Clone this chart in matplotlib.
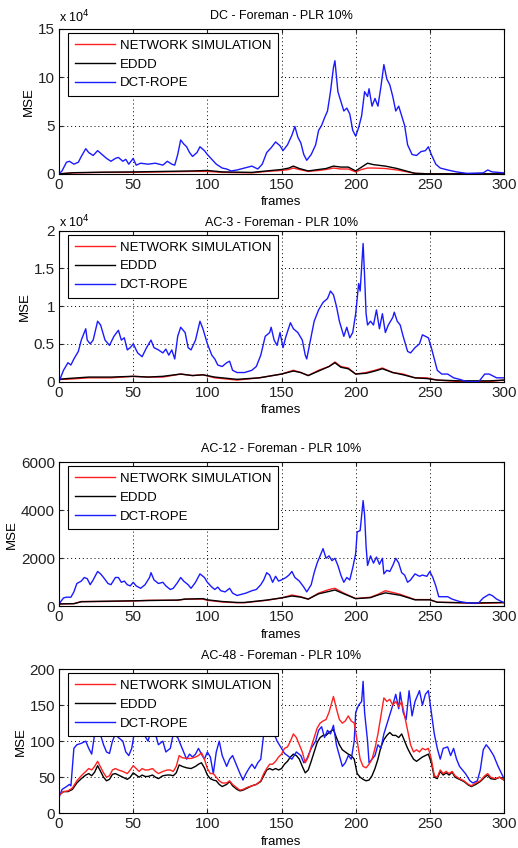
import matplotlib
matplotlib.use('Agg')
import matplotlib.pyplot as plt
import numpy as np

plt.rcParams['font.family'] = ['Liberation Sans', 'DejaVu Sans']
plt.rcParams['font.size'] = 9.5

labels = ['NETWORK SIMULATION', 'EDDD', 'DCT-ROPE']
titles = ['DC - Foreman - PLR 10%', 'AC-3 - Foreman - PLR 10%',
          'AC-12 - Foreman - PLR 10%', 'AC-48 - Foreman - PLR 10%']

# ---- DC (values in units of 1e4) ----
dc_blue_x = [0, 2, 5, 7, 10, 13, 15, 18, 20, 23, 26, 29, 32, 35, 38, 40, 43, 45, 47, 50,
             52, 55, 60, 65, 70, 73, 76, 78, 80, 82, 84, 86, 88, 90, 93, 95, 98, 100, 103, 106,
             110, 113, 116, 120, 125, 130, 134, 137, 140, 143, 146, 149, 151, 154, 157, 159, 161, 163, 165, 167,
             170, 173, 175, 177, 179, 181, 183, 185, 186, 188, 190, 192, 194, 196, 198, 200, 202, 204, 206, 208,
             209, 211, 213, 215, 217, 219, 221, 223, 225, 227, 229, 231, 233, 235, 238, 241, 244, 247, 249, 251,
             254, 257, 262, 268, 275, 286, 289, 292, 300]
dc_blue = [0, 0.3, 1.2, 1.3, 1.0, 1.2, 1.8, 2.6, 2.2, 1.9, 2.4, 2.0, 1.6, 1.3, 1.6, 1.7, 1.3, 1.5, 1.0, 1.6,
           0.9, 1.1, 1.0, 1.1, 0.9, 1.3, 1.0, 0.9, 2.0, 3.5, 3.1, 2.8, 2.2, 1.8, 2.2, 2.8, 2.4, 2.0, 1.5, 1.0,
           0.6, 0.5, 0.3, 0.4, 0.6, 0.8, 0.5, 1.0, 2.2, 2.7, 3.3, 2.9, 2.4, 3.0, 4.0, 4.9, 3.8, 3.2, 2.0, 1.4,
           2.0, 3.0, 4.5, 5.0, 5.8, 6.5, 8.5, 11.0, 11.7, 8.5, 7.5, 6.5, 6.8, 6.2, 4.5, 3.9, 4.8, 6.0, 8.5, 8.0,
           8.8, 7.0, 7.8, 7.0, 9.0, 11.3, 9.8, 9.2, 8.0, 6.5, 7.0, 6.0, 5.0, 3.0, 2.0, 1.9, 2.3, 2.4, 2.8, 2.0,
           1.0, 0.6, 0.4, 0.2, 0.05, 0.1, 0.4, 0.2, 0.1]
dc_low_x = [0, 10, 30, 50, 70, 90, 100, 110, 130, 140, 150, 155, 158, 162, 168, 175, 180, 185, 190, 195,
            200, 204, 208, 212, 220, 228, 235, 240, 250, 300]
dc_red = [0, 0.1, 0.15, 0.15, 0.2, 0.25, 0.25, 0.15, 0.1, 0.25, 0.35, 0.45, 0.6, 0.45, 0.25, 0.35, 0.45, 0.6, 0.5, 0.5,
          0.2, 0.45, 0.6, 0.6, 0.55, 0.4, 0.2, 0.05, 0, 0]
dc_black = [0, 0.12, 0.17, 0.2, 0.25, 0.3, 0.35, 0.2, 0.15, 0.3, 0.45, 0.6, 0.8, 0.55, 0.3, 0.45, 0.55, 0.8, 0.7, 0.7,
            0.3, 0.7, 1.1, 0.95, 0.8, 0.55, 0.25, 0.05, 0, 0]

# ---- AC-3 (values in units of 1e4) ----
ac3_blue_x = [0, 3, 6, 8, 10, 13, 15, 18, 19, 21, 23, 26, 28, 31, 34, 37, 40, 42, 44, 46,
              48, 50, 53, 56, 59, 62, 64, 67, 70, 72, 74, 76, 78, 80, 82, 85, 87, 89, 92, 95,
              97, 100, 103, 105, 107, 110, 113, 115, 117, 120, 125, 130, 133, 136, 139, 142, 143, 145, 147, 149,
              151, 153, 156, 158, 161, 164, 166, 167, 169, 172, 175, 178, 181, 183, 185, 187, 189, 192, 194, 196,
              198, 200, 202, 203, 205, 206, 207, 208, 210, 212, 214, 216, 218, 220, 222, 225, 226, 228, 230, 232,
              235, 237, 240, 243, 245, 247, 249, 251, 253, 255, 258, 262, 266, 270, 275, 283, 287, 290, 295, 300]
ac3_blue = [0, 0.15, 0.25, 0.22, 0.3, 0.4, 0.55, 0.7, 0.55, 0.5, 0.55, 0.8, 0.75, 0.55, 0.48, 0.6, 0.68, 0.55, 0.58, 0.42,
            0.45, 0.5, 0.38, 0.33, 0.45, 0.55, 0.45, 0.42, 0.38, 0.43, 0.35, 0.42, 0.3, 0.6, 0.72, 0.65, 0.45, 0.42, 0.55, 0.8,
            0.7, 0.5, 0.35, 0.3, 0.22, 0.2, 0.25, 0.27, 0.15, 0.12, 0.12, 0.15, 0.2, 0.35, 0.6, 0.65, 0.72, 0.55, 0.48, 0.65,
            0.45, 0.6, 0.78, 0.7, 0.65, 0.55, 0.35, 0.3, 0.5, 0.8, 0.95, 1.05, 1.1, 1.2, 1.15, 1.0, 0.8, 0.6, 0.72, 0.58,
            0.65, 0.9, 1.3, 1.2, 1.83, 1.4, 0.9, 0.75, 0.8, 0.75, 0.95, 0.7, 0.9, 0.65, 0.75, 0.85, 0.92, 0.8, 0.75, 0.6,
            0.4, 0.38, 0.45, 0.5, 0.62, 0.6, 0.58, 0.45, 0.3, 0.15, 0.1, 0.1, 0.05, 0.03, 0.0, 0.0, 0.1, 0.1, 0.05, 0.05]
ac3_low_x = [0, 5, 20, 35, 50, 60, 70, 82, 90, 97, 105, 120, 135, 150, 158, 163, 168, 175, 182, 186,
             190, 195, 200, 207, 213, 218, 225, 232, 240, 248, 255, 270, 290, 300]
ac3_red = [0.03, 0.03, 0.05, 0.05, 0.07, 0.06, 0.06, 0.1, 0.08, 0.09, 0.05, 0.02, 0.05, 0.1, 0.15, 0.12, 0.08, 0.15, 0.2, 0.26,
           0.2, 0.18, 0.1, 0.12, 0.15, 0.18, 0.12, 0.1, 0.05, 0.05, 0.02, 0.0, 0.0, 0.02]
ac3_black = [0.03, 0.04, 0.06, 0.06, 0.07, 0.06, 0.07, 0.1, 0.08, 0.09, 0.06, 0.03, 0.05, 0.1, 0.14, 0.12, 0.08, 0.14, 0.2, 0.25,
             0.19, 0.17, 0.1, 0.11, 0.14, 0.17, 0.12, 0.09, 0.05, 0.04, 0.02, 0.01, 0.01, 0.02]

# ---- AC-12 ----
ac12_blue_x = [0, 3, 5, 8, 10, 12, 15, 17, 19, 21, 23, 26, 28, 30, 33, 35, 38, 40, 42, 44,
               46, 48, 50, 52, 55, 58, 61, 62, 64, 67, 70, 72, 75, 77, 80, 82, 84, 87, 89, 92,
               95, 98, 100, 103, 105, 107, 109, 112, 115, 117, 120, 123, 126, 130, 133, 136, 138, 140, 142, 144,
               146, 148, 150, 153, 155, 157, 159, 162, 165, 167, 170, 172, 174, 176, 178, 180, 182, 184, 186, 188,
               190, 192, 194, 196, 198, 200, 201, 203, 205, 206, 207, 208, 210, 212, 214, 216, 218, 219, 221, 223,
               225, 227, 229, 231, 233, 235, 237, 240, 243, 245, 248, 250, 252, 254, 256, 258, 262, 265, 270, 275,
               280, 283, 286, 290, 292, 295, 300]
ac12_blue = [100, 350, 380, 380, 600, 950, 1050, 1200, 1150, 900, 1100, 1450, 1350, 1200, 950, 900, 1200, 1200, 1000, 1050,
             900, 850, 1000, 850, 750, 900, 1200, 1400, 1100, 950, 1000, 850, 700, 750, 1000, 1200, 1050, 900, 750, 1000,
             1350, 1200, 1000, 800, 700, 800, 650, 600, 750, 550, 450, 500, 550, 650, 700, 900, 1100, 1400, 1300, 1000,
             1250, 1050, 1100, 1200, 1300, 1450, 1200, 1050, 800, 600, 900, 1400, 1800, 2100, 2400, 2000, 2100, 1900, 2000, 1700,
             1300, 1000, 1200, 1100, 1600, 2200, 3100, 3150, 4400, 3800, 2500, 1700, 2100, 1800, 2050, 1750, 2000, 1350, 1500, 1450,
             1700, 2000, 1800, 1400, 1300, 1000, 1100, 1350, 1250, 1300, 1250, 1450, 1200, 850, 400, 400, 400, 300, 200, 150,
             130, 150, 350, 500, 450, 300, 150]
ac12_low_x = [0, 10, 15, 30, 50, 60, 80, 85, 97, 100, 110, 120, 125, 140, 150, 157, 163, 168, 175, 182,
              186, 192, 200, 210, 215, 220, 230, 240, 250, 255, 270, 280, 300]
ac12_red = [100, 110, 200, 200, 220, 250, 250, 300, 300, 250, 180, 150, 150, 250, 350, 470, 400, 300, 550, 700,
            750, 550, 320, 380, 500, 650, 500, 280, 280, 170, 150, 120, 150]
ac12_black = [100, 110, 190, 210, 230, 240, 260, 300, 320, 270, 200, 160, 160, 260, 350, 430, 380, 300, 520, 620,
              680, 520, 320, 360, 470, 560, 460, 270, 270, 170, 150, 140, 160]

# ---- AC-48 ----
ac48_blue_x = [0, 2, 5, 7, 8, 10, 12, 15, 18, 20, 22, 24, 27, 30, 32, 34, 36, 38, 40, 43,
               45, 47, 49, 51, 54, 57, 60, 62, 65, 67, 70, 72, 75, 77, 80, 82, 84, 86, 88, 90,
               92, 94, 96, 98, 100, 102, 104, 106, 108, 110, 113, 115, 117, 119, 122, 124, 126, 128, 130, 132,
               134, 136, 138, 140, 143, 145, 147, 150, 152, 154, 157, 160, 163, 165, 167, 170, 173, 175, 177, 179,
               181, 183, 185, 187, 189, 191, 193, 195, 197, 199, 200, 202, 204, 205, 206, 208, 209, 211, 213, 215,
               217, 219, 222, 225, 227, 229, 230, 232, 234, 236, 238, 240, 243, 245, 247, 249, 251, 253, 255, 257,
               259, 262, 264, 266, 268, 270, 274, 277, 279, 282, 284, 286, 288, 290, 293, 296, 300]
ac48_blue = [22, 33, 37, 40, 38, 90, 95, 97, 100, 90, 82, 110, 115, 95, 85, 83, 100, 110, 105, 100,
             85, 80, 90, 115, 120, 110, 100, 115, 110, 95, 100, 85, 90, 110, 105, 95, 85, 75, 82, 78,
             82, 90, 82, 75, 85, 78, 55, 85, 100, 80, 65, 75, 80, 70, 55, 46, 55, 62, 68, 62,
             70, 75, 110, 140, 130, 110, 100, 90, 83, 80, 75, 85, 80, 70, 75, 90, 100, 115, 120, 105,
             115, 110, 122, 95, 80, 65, 70, 80, 75, 100, 140, 150, 155, 183, 140, 100, 70, 75, 80, 95,
             90, 110, 130, 150, 165, 145, 168, 140, 130, 170, 135, 155, 170, 150, 165, 170, 140, 110, 90, 75,
             90, 92, 80, 90, 75, 65, 55, 45, 42, 45, 60, 88, 95, 90, 80, 65, 48]
ac48_low_x = [0, 3, 6, 9, 12, 15, 18, 20, 22, 24, 26, 28, 30, 32, 34, 36, 38, 40, 43, 46,
              48, 50, 52, 54, 56, 58, 60, 63, 65, 67, 70, 73, 75, 77, 79, 81, 83, 86, 89, 92,
              94, 96, 98, 100, 102, 104, 106, 108, 110, 113, 115, 117, 120, 122, 124, 127, 130, 133, 136, 138,
              140, 142, 144, 146, 148, 150, 152, 154, 156, 158, 160, 162, 164, 166, 168, 170, 172, 174, 176, 178,
              180, 182, 184, 185, 187, 189, 191, 193, 195, 197, 199, 201, 203, 205, 207, 209, 211, 213, 215, 217,
              219, 221, 223, 225, 227, 229, 231, 233, 235, 237, 239, 241, 243, 245, 247, 249, 251, 253, 255, 257,
              259, 261, 263, 265, 267, 270, 273, 276, 278, 281, 284, 287, 289, 291, 294, 297, 300]
ac48_red = [25, 30, 31, 35, 45, 52, 58, 62, 60, 65, 72, 64, 56, 50, 52, 60, 62, 60, 58, 55,
            60, 66, 62, 58, 62, 60, 60, 62, 58, 55, 58, 60, 60, 58, 65, 80, 77, 76, 76, 78,
            80, 84, 75, 62, 55, 55, 50, 45, 42, 42, 45, 40, 35, 32, 33, 36, 38, 40, 45, 55,
            62, 68, 68, 72, 78, 82, 90, 92, 100, 110, 105, 95, 85, 70, 78, 92, 105, 118, 125, 128,
            130, 140, 155, 162, 145, 130, 125, 128, 135, 128, 125, 100, 75, 65, 63, 68, 75, 90, 110, 135,
            160, 155, 158, 150, 155, 148, 155, 135, 115, 95, 85, 88, 85, 90, 88, 90, 75, 52, 50, 60,
            55, 58, 55, 58, 52, 48, 45, 40, 38, 42, 45, 52, 55, 50, 48, 50, 46]
ac48_black = [25, 30, 30, 33, 42, 48, 53, 55, 52, 57, 66, 58, 50, 45, 47, 54, 55, 53, 50, 47,
              50, 56, 53, 50, 53, 51, 51, 53, 50, 48, 52, 53, 53, 52, 56, 67, 65, 63, 62, 65,
              68, 70, 63, 53, 48, 46, 45, 40, 37, 40, 44, 38, 33, 31, 32, 35, 38, 40, 44, 52,
              60, 62, 60, 62, 60, 62, 68, 72, 78, 82, 80, 75, 65, 56, 60, 72, 85, 98, 105, 108,
              108, 112, 115, 116, 105, 95, 88, 85, 82, 80, 75, 55, 50, 47, 45, 46, 52, 62, 75, 92,
              102, 108, 112, 108, 108, 105, 110, 100, 90, 82, 75, 72, 75, 78, 80, 82, 70, 50, 48, 58,
              53, 56, 53, 57, 50, 47, 44, 39, 37, 40, 44, 50, 53, 48, 47, 50, 46]

panels = [
    (dc_low_x, dc_red, dc_black, dc_blue_x, dc_blue, [0, 15], [0, 5, 10, 15], ['0', '5', '10', '15'], True),
    (ac3_low_x, ac3_red, ac3_black, ac3_blue_x, ac3_blue, [0, 2], [0, 0.5, 1, 1.5, 2], ['0', '0.5', '1', '1.5', '2'], True),
    (ac12_low_x, ac12_red, ac12_black, ac12_blue_x, ac12_blue, [0, 6000], [0, 2000, 4000, 6000], ['0', '2000', '4000', '6000'], False),
    (ac48_low_x, ac48_red, ac48_black, ac48_blue_x, ac48_blue, [0, 200], [0, 50, 100, 150, 200], ['0', '50', '100', '150', '200'], False),
]

# axes rectangles in figure fraction (left, bottom, width, height)
rects = [(0.114, 0.795, 0.859, 0.171),
         (0.114, 0.550, 0.859, 0.178),
         (0.114, 0.285, 0.859, 0.170),
         (0.114, 0.041, 0.859, 0.170)]
title_pads = [7, 3, 7, 7]
exp_y = [1.025, 1.005]

fig = plt.figure(figsize=(5.18, 8.48), dpi=100)
for i, (lx, red, black, bx, blue, ylim, yt, ytl, exp4) in enumerate(panels):
    ax = fig.add_axes(rects[i])
    l1, = ax.plot(lx, red, color='#ff2020', lw=1.0)
    l2, = ax.plot(lx, black, color='black', lw=1.0)
    l3, = ax.plot(bx, blue, color='#1a1aff', lw=1.0)
    if i == 3:
        # red drawn above black in the last panel
        l1.set_zorder(2.2)
    ax.set_xlim(0, 300)
    ax.set_ylim(*ylim)
    ax.set_xticks(range(0, 301, 50))
    ax.set_yticks(yt)
    ax.set_yticklabels(ytl)
    ax.grid(True, color='black', linestyle=(0, (1, 3)), linewidth=0.7)
    ax.tick_params(direction='in', top=True, right=True, length=3, colors='#222222',
                   labelsize=11, pad=3)
    ax.set_title(titles[i], fontsize=9, pad=title_pads[i])
    ax.set_xlabel('frames', labelpad=3)
    ax.set_ylabel('MSE', labelpad=2)
    if exp4:
        ax.text(0.0, exp_y[i], r'x 10$^4$', transform=ax.transAxes, fontsize=9, va='bottom')
    leg = ax.legend([l1, l2, l3], labels, loc='upper left', bbox_to_anchor=(0.015, 0.99),
                    fancybox=False, framealpha=1, edgecolor='black', borderaxespad=0.2,
                    handlelength=3.0, handletextpad=0.4, labelspacing=0.5, borderpad=0.5)
    leg.get_frame().set_linewidth(0.8)
    leg.set_zorder(5)

plt.savefig('out.png', dpi=100)
